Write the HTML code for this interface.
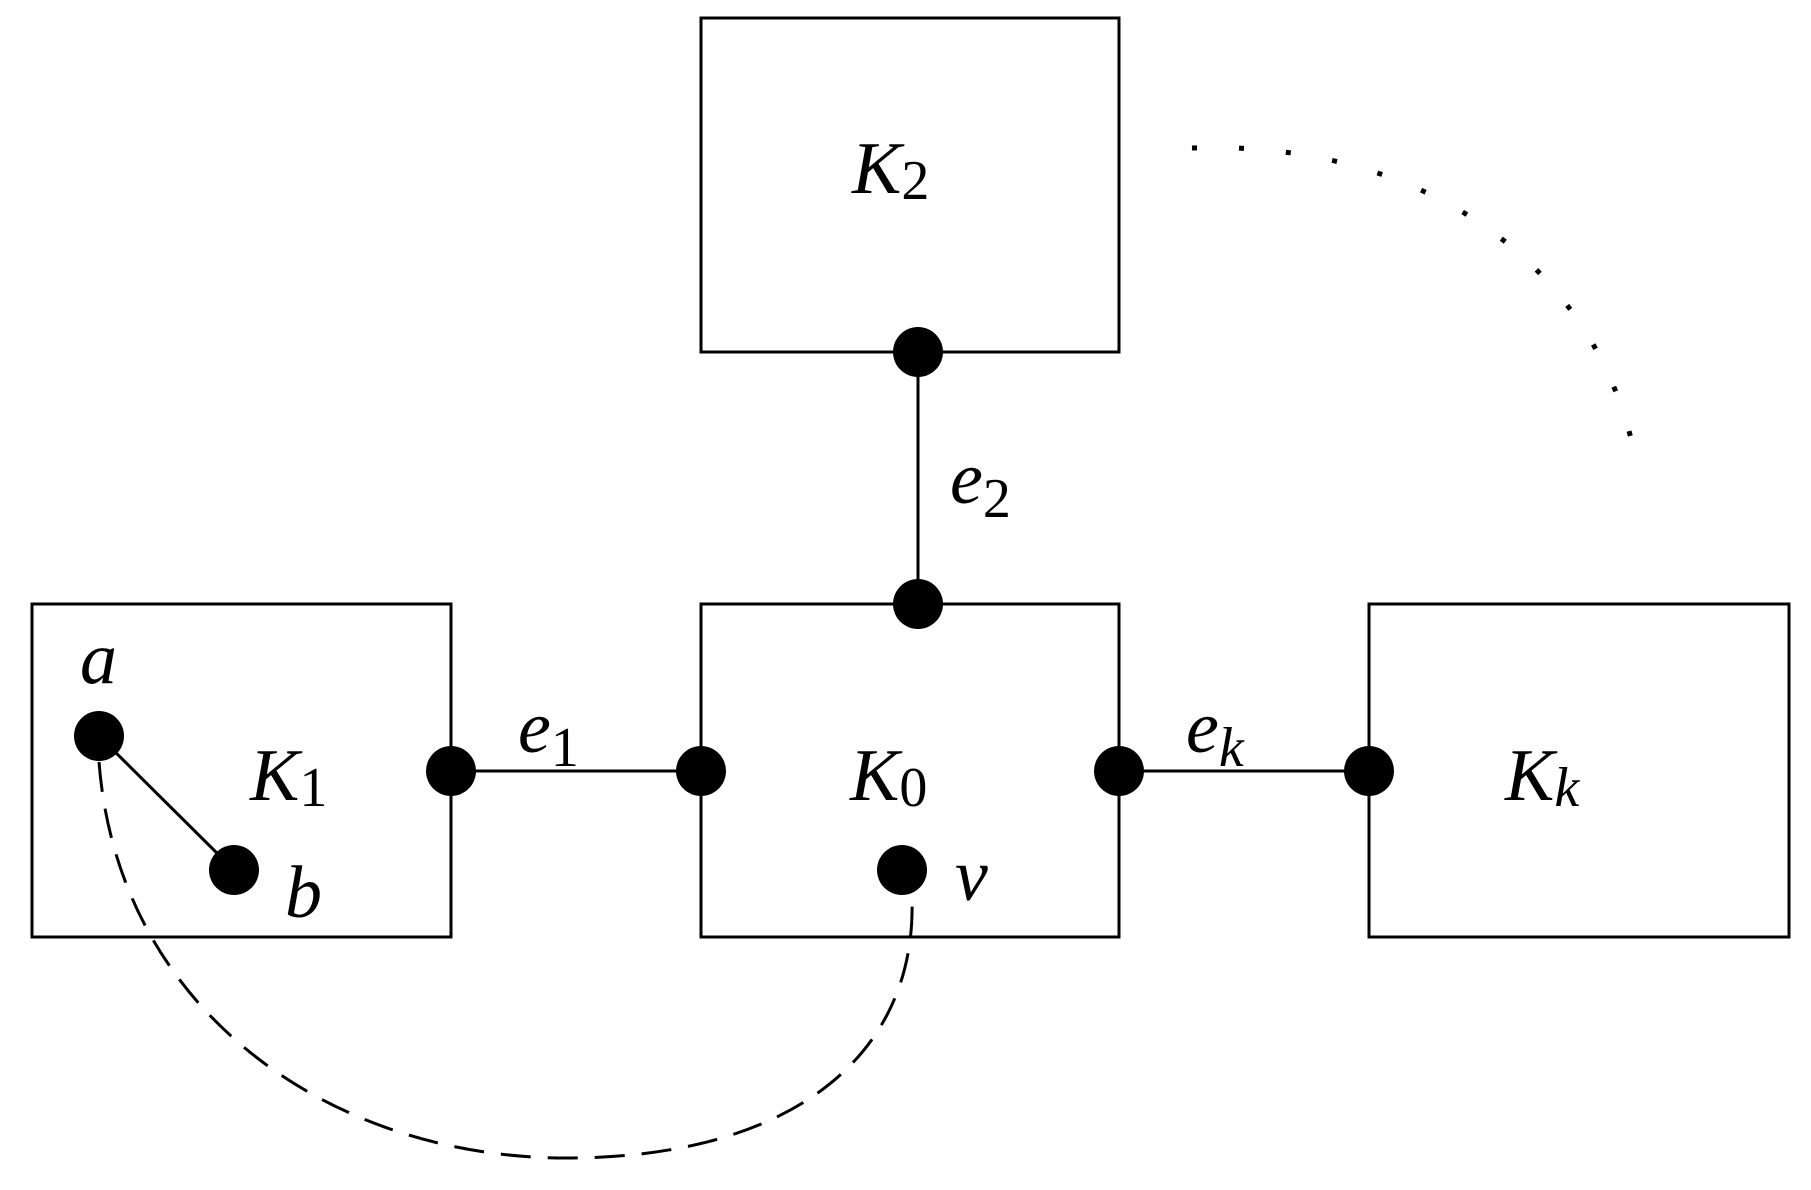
<!DOCTYPE html>
<html><head><meta charset="utf-8"><style>
html,body{margin:0;padding:0;background:#fff;}
svg{display:block;}
text{font-family:"Liberation Serif",serif;font-style:italic;fill:#000;}
tspan.s{font-style:normal;}
</style></head><body>
<svg width="1811" height="1190" viewBox="0 0 1811 1190" xmlns="http://www.w3.org/2000/svg">
<g fill="none" stroke="#000" stroke-width="3">
<rect x="701" y="18" width="418" height="334"/>
<rect x="32" y="604" width="419" height="333"/>
<rect x="701" y="604" width="418" height="333"/>
<rect x="1369" y="604" width="420" height="333"/>
<line x1="451" y1="771" x2="701" y2="771"/>
<line x1="1119" y1="771" x2="1369" y2="771"/>
<line x1="918" y1="352" x2="918" y2="604"/>
<line x1="99" y1="736" x2="234" y2="870"/>
<path d="M99,762 C118,1010 330,1160 572,1158 C800,1156 916,1050 912,900 L902,880" stroke-dasharray="30 17"/>
<path d="M1192,148 C1420,140 1590,260 1633,447" stroke-width="5" stroke-dasharray="5 42" stroke-linecap="butt"/>
</g>
<g fill="#000">
<circle cx="918" cy="352" r="25"/>
<circle cx="918" cy="604" r="25"/>
<circle cx="451" cy="771" r="25"/>
<circle cx="701" cy="771" r="25"/>
<circle cx="1119" cy="771" r="25"/>
<circle cx="1369" cy="771" r="25"/>
<circle cx="99" cy="736" r="25"/>
<circle cx="234" cy="870" r="25"/>
<circle cx="902" cy="870" r="25"/>
</g>
<g font-size="74">
<text x="852" y="193">K<tspan class="s" font-size="56" dy="6">2</tspan></text>
<text x="250" y="800">K<tspan class="s" font-size="56" dy="6">1</tspan></text>
<text x="850" y="800">K<tspan class="s" font-size="56" dy="6">0</tspan></text>
<text x="1505" y="800">K<tspan font-size="56" dy="6">k</tspan></text>
<text x="518" y="752">e<tspan class="s" font-size="56" dy="14">1</tspan></text>
<text x="950" y="503">e<tspan class="s" font-size="56" dy="14">2</tspan></text>
<text x="1186" y="752">e<tspan font-size="56" dy="14">k</tspan></text>
<text x="80" y="683">a</text>
<text x="285" y="917">b</text>
<text x="955" y="900">v</text>
</g>
</svg>
</body></html>
